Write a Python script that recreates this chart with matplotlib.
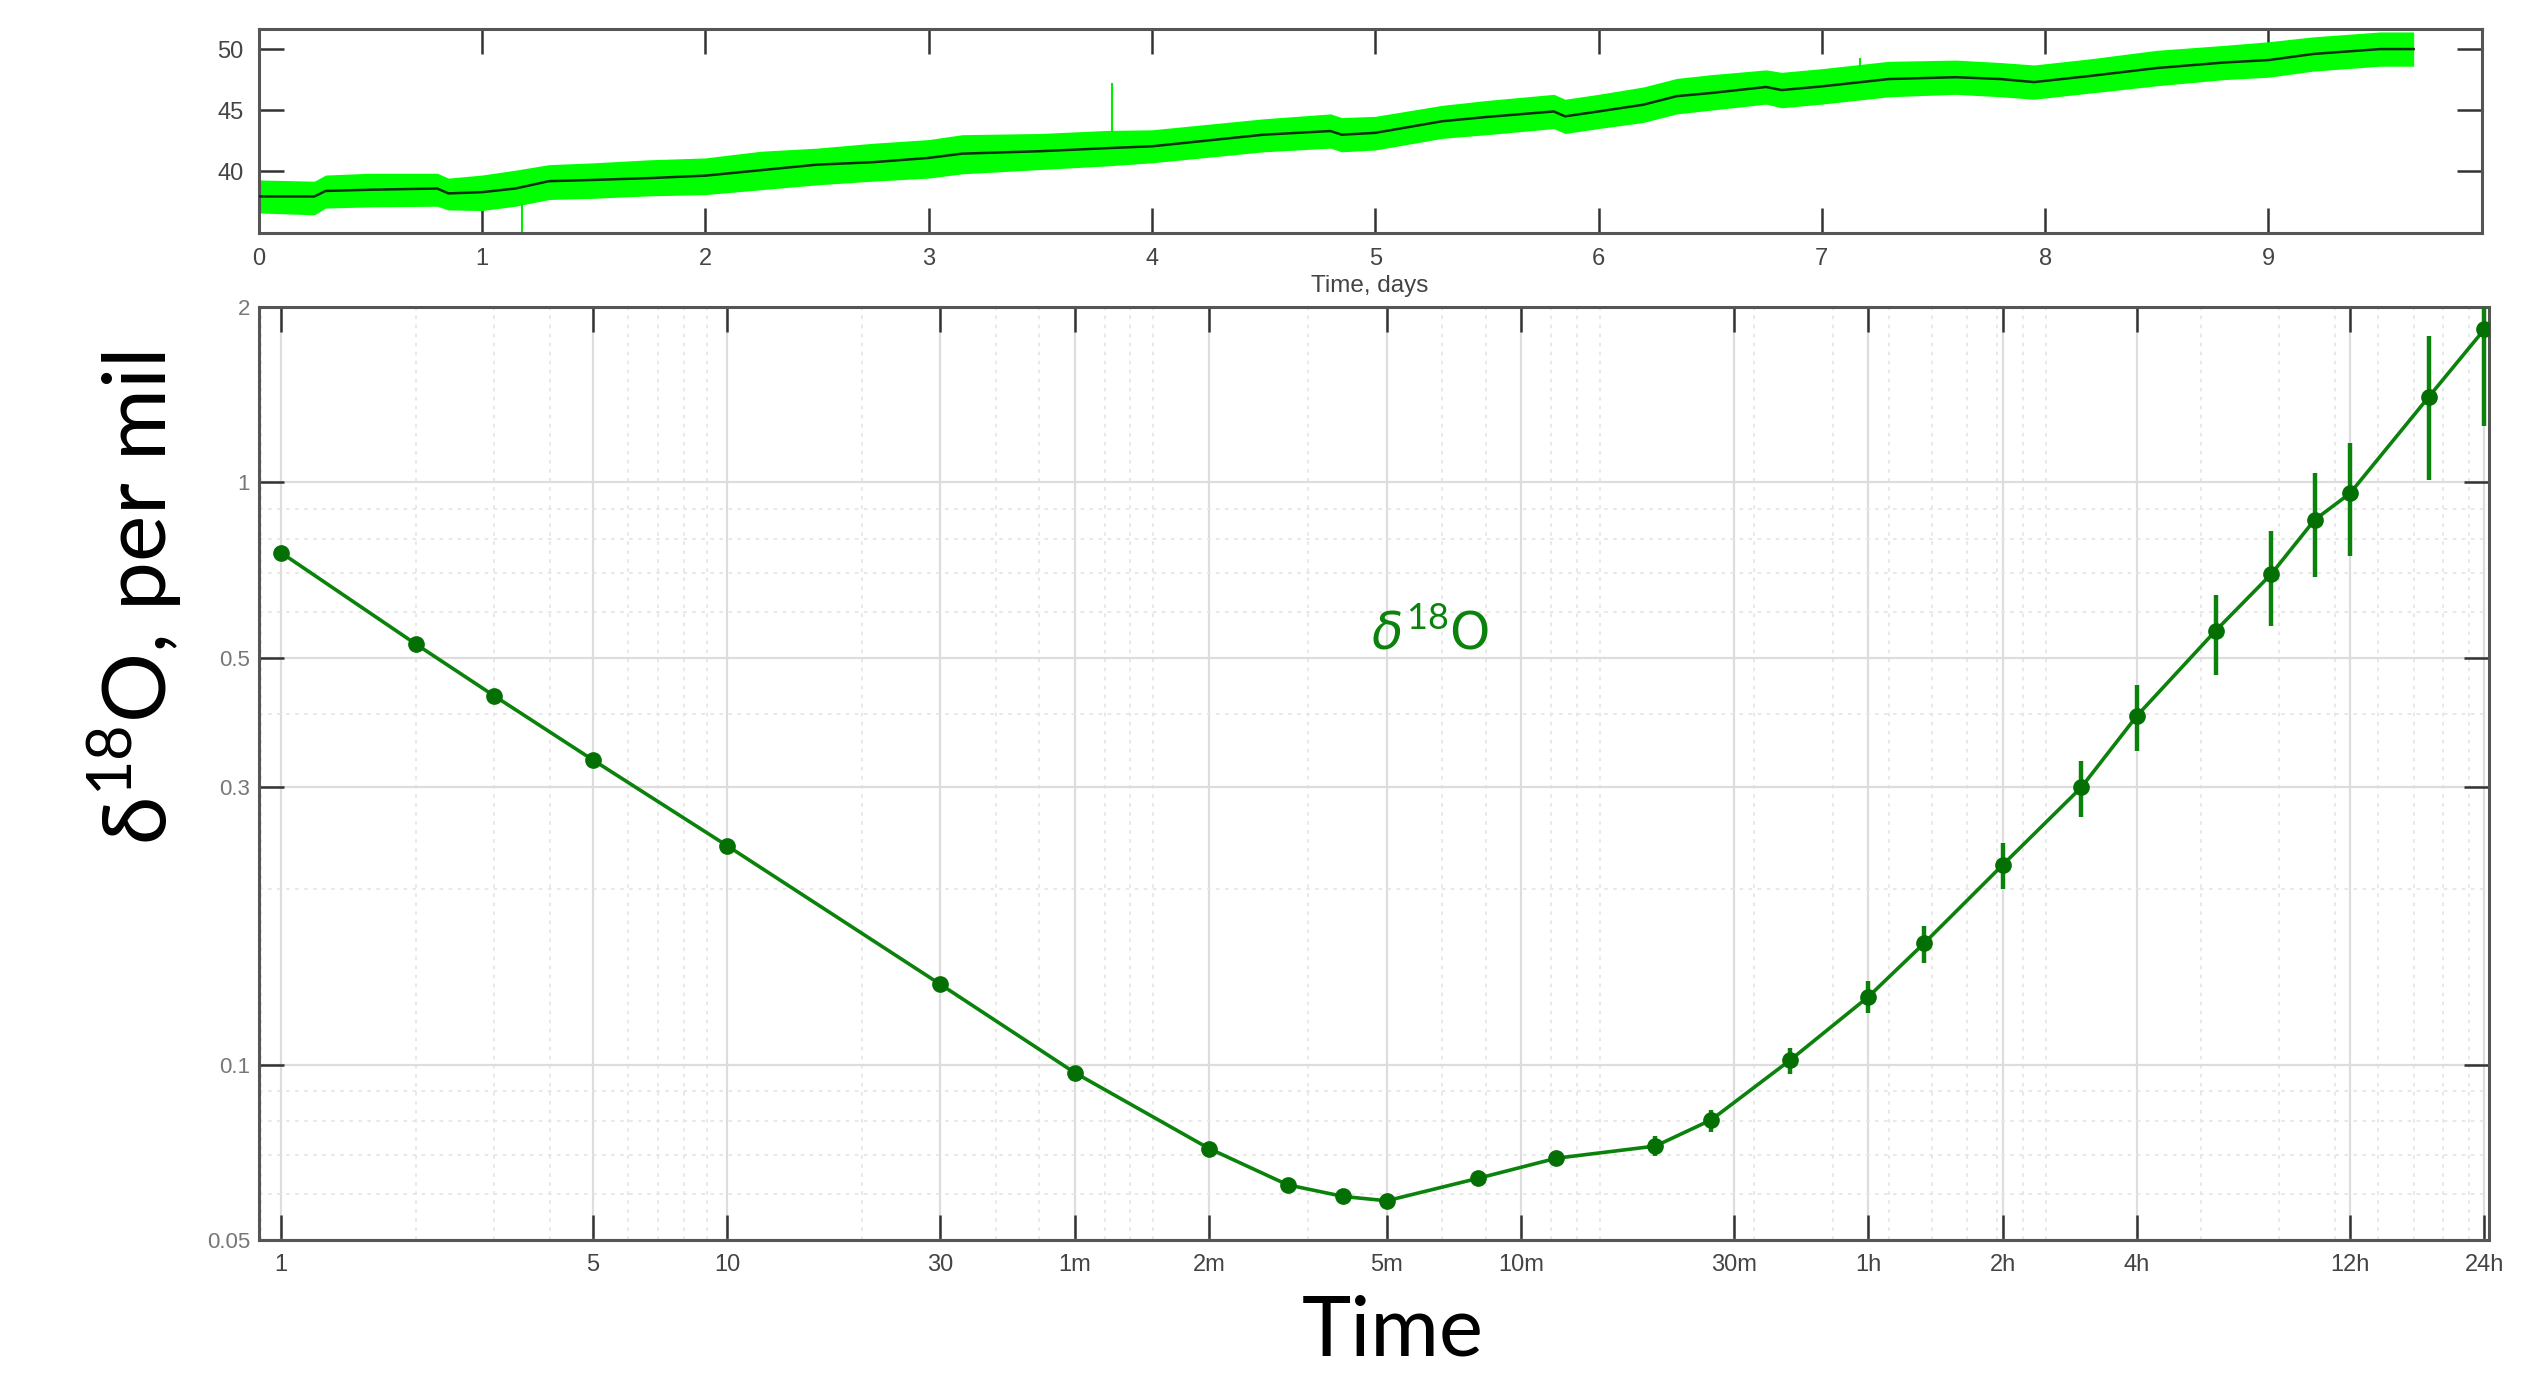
import numpy as np
import matplotlib
matplotlib.use('Agg')
import matplotlib.pyplot as plt
from matplotlib.ticker import FixedLocator, NullFormatter, LogLocator


###     Data

# top panel: record over ~10 days (mean trace + spread envelope)
days = [0, 0.25, 0.3, 0.5, 0.8, 0.85, 1.0, 1.15, 1.3, 1.5, 1.75, 2.0, 2.25, 2.5, 2.75,
        3.0, 3.15, 3.5, 3.8, 4.0, 4.5, 4.8, 4.85, 5.0, 5.3, 5.5, 5.8, 5.85, 6.0, 6.2,
        6.35, 6.5, 6.75, 6.82, 7.0, 7.3, 7.6, 7.8, 7.95, 8.2, 8.5, 8.8, 9.0, 9.2, 9.5, 9.65]
trace_mean = [37.95, 37.95, 38.4, 38.5, 38.6, 38.2, 38.3, 38.6, 39.2, 39.3, 39.45, 39.65,
              40.1, 40.55, 40.75, 41.1, 41.45, 41.65, 41.9, 42.05, 43.0, 43.3, 43.0, 43.15,
              44.1, 44.45, 44.9, 44.5, 44.9, 45.45, 46.15, 46.4, 46.9, 46.65, 46.95, 47.55,
              47.7, 47.55, 47.3, 47.8, 48.45, 48.9, 49.1, 49.6, 50.0, 50.0]
band_hi = [39.3, 39.2, 39.7, 39.85, 39.85, 39.45, 39.7, 40.1, 40.55, 40.7, 40.95, 41.1,
           41.65, 41.9, 42.3, 42.6, 43.0, 43.1, 43.35, 43.4, 44.3, 44.7, 44.4, 44.5, 45.4,
           45.8, 46.3, 45.9, 46.3, 46.9, 47.6, 47.9, 48.3, 48.1, 48.4, 49.0, 49.1, 48.9,
           48.7, 49.2, 49.9, 50.3, 50.6, 51.0, 51.4, 51.4]
band_lo = [36.6, 36.45, 37.0, 37.1, 37.15, 36.85, 36.8, 37.15, 37.7, 37.8, 38.0, 38.1,
           38.5, 38.9, 39.2, 39.45, 39.8, 40.15, 40.45, 40.7, 41.6, 41.9, 41.6, 41.75, 42.7,
           43.0, 43.5, 43.1, 43.5, 44.0, 44.7, 45.0, 45.5, 45.2, 45.5, 46.1, 46.3, 46.1,
           45.9, 46.4, 47.0, 47.5, 47.7, 48.2, 48.6, 48.6]
spike_day = [1.18, 3.82, 7.17]
spike_from = [37.3, 43.2, 48.3]
spike_to = [35.0, 47.2, 49.3]

# bottom panel: deviation vs averaging time (seconds)
tau = [1, 2, 3, 5, 10, 30, 60, 120, 180, 240, 300, 480, 720, 1200, 1600, 2400, 3600,
       4800, 7200, 10800, 14400, 21600, 28800, 36000, 43200, 64800, 86400]
dev = [0.757, 0.528, 0.430, 0.3335, 0.2375, 0.1374, 0.0969, 0.0718, 0.0622, 0.0594,
       0.0584, 0.0638, 0.0691, 0.0725, 0.0804, 0.1017, 0.1308, 0.1616, 0.2203, 0.2993,
       0.3974, 0.556, 0.696, 0.862, 0.957, 1.40, 1.83]
dev_lo = [0.757, 0.528, 0.430, 0.3335, 0.2375, 0.1374, 0.0969, 0.0718, 0.0622, 0.0594,
          0.0584, 0.0638, 0.0691, 0.0697, 0.0767, 0.0965, 0.1225, 0.1497, 0.200, 0.2658,
          0.346, 0.467, 0.567, 0.689, 0.747, 1.01, 1.25]
dev_hi = [0.757, 0.528, 0.430, 0.3335, 0.2375, 0.1374, 0.0969, 0.0718, 0.0622, 0.0594,
          0.0584, 0.0638, 0.0691, 0.0755, 0.0836, 0.107, 0.139, 0.173, 0.240, 0.3323,
          0.449, 0.640, 0.825, 1.036, 1.170, 1.78, 2.41]

tick_tau = [1, 5, 10, 30, 60, 120, 300, 600, 1800, 3600, 7200, 14400, 43200, 86400]
tick_tau_lbl = ['1', '5', '10', '30', '1m', '2m', '5m', '10m', '30m', '1h', '2h', '4h', '12h', '24h']
tick_dev = [0.05, 0.1, 0.3, 0.5, 1, 2]
tick_dev_lbl = ['0.05', '0.1', '0.3', '0.5', '1', '2']


###     Style

plt.rcParams['mathtext.fontset'] = 'custom'
plt.rcParams['mathtext.rm'] = 'Lato'
plt.rcParams['mathtext.it'] = 'DejaVu Sans:italic'

narrow = ['Liberation Sans Narrow', 'Liberation Sans', 'DejaVu Sans']
tick_col = '#444444'
spine_col = '#555555'
grn = '#0b820b'

fig = plt.figure(figsize=(25.35, 13.76), dpi=100)

# ---- top panel
ax1 = fig.add_axes([0.102, 0.831, 0.877, 0.148])
ax1.fill_between(days, band_lo, band_hi, color='#00ff00', lw=0, zorder=2)
ax1.vlines(spike_day, spike_from, spike_to, color='#00ee00', lw=1.5, zorder=2)
ax1.plot(days, trace_mean, color='#0b2e0b', lw=1.8, zorder=3)
ax1.set_xlim(0, 9.955)
ax1.set_ylim(35.0, 51.65)
ax1.set_xticks(range(10))
ax1.set_yticks([40, 45, 50])
ax1.tick_params(direction='in', length=18, width=1.8, color='#333333',
                top=True, right=True, labelsize=17, labelcolor=tick_col, pad=11)
for lbl in ax1.get_xticklabels() + ax1.get_yticklabels():
    lbl.set_family(narrow)
ax1.set_xlabel('Time, days', fontsize=17.5, color=tick_col, family=narrow, labelpad=4)
for s in ax1.spines.values():
    s.set_color(spine_col)
    s.set_linewidth(2.2)

# ---- bottom panel
ax2 = fig.add_axes([0.102, 0.0988, 0.880, 0.6781])
yerr = [np.array(dev) - np.array(dev_lo), np.array(dev_hi) - np.array(dev)]
ax2.errorbar(tau, dev, yerr=yerr, color=grn, lw=2.6, elinewidth=3.2, capsize=0,
             marker='o', markersize=11, markerfacecolor='#047004', markeredgecolor='#047004',
             zorder=4)
ax2.set_xscale('log')
ax2.set_yscale('log')
ax2.set_xlim(0.89, 88700)
ax2.set_ylim(0.05, 2)

ax2.xaxis.set_major_locator(FixedLocator(tick_tau))
ax2.set_xticklabels(tick_tau_lbl)
ax2.xaxis.set_minor_locator(LogLocator(base=10, subs=np.arange(2, 10), numticks=20))
ax2.xaxis.set_minor_formatter(NullFormatter())
ax2.yaxis.set_major_locator(FixedLocator(tick_dev))
ax2.set_yticklabels(tick_dev_lbl)
ax2.yaxis.set_minor_locator(LogLocator(base=10, subs=np.arange(2, 10), numticks=20))
ax2.yaxis.set_minor_formatter(NullFormatter())

ax2.grid(which='major', color='#dddddd', lw=1.6, ls='-', zorder=0)
ax2.grid(which='minor', color='#e6e6e6', lw=1.3, ls=(0, (2, 3)), zorder=0)
ax2.set_axisbelow(True)

ax2.tick_params(which='major', direction='in', length=18, width=1.8, color='#333333',
                top=True, right=True, labelsize=17, labelcolor=tick_col)
ax2.tick_params(which='minor', length=0)
ax2.tick_params(axis='x', pad=10)
ax2.tick_params(axis='y', pad=6, labelcolor='#777777', labelsize=16)
for lbl in ax2.get_xticklabels():
    lbl.set_family(narrow)
for lbl in ax2.get_yticklabels():
    lbl.set_family(['Liberation Sans', 'DejaVu Sans'])
for s in ax2.spines.values():
    s.set_color(spine_col)
    s.set_linewidth(2.2)

ax2.text(0.525, 0.648, r'$\delta^{\mathrm{18}}$O', transform=ax2.transAxes,
         ha='center', va='center', fontsize=37, color=grn)

# big axis titles
fig.text(1393 / 2535, 1 - 1333 / 1376, 'Time', ha='center', va='center',
         fontsize=60, family=['Lato', 'DejaVu Sans'], color='black')
fig.text(135 / 2535, 1 - 598 / 1376, r'δ$^{18}$O, per mil', ha='center', va='center',
         rotation=90, fontsize=63, family=['Lato', 'DejaVu Sans'], color='black')

plt.savefig('out.png', dpi=100)
